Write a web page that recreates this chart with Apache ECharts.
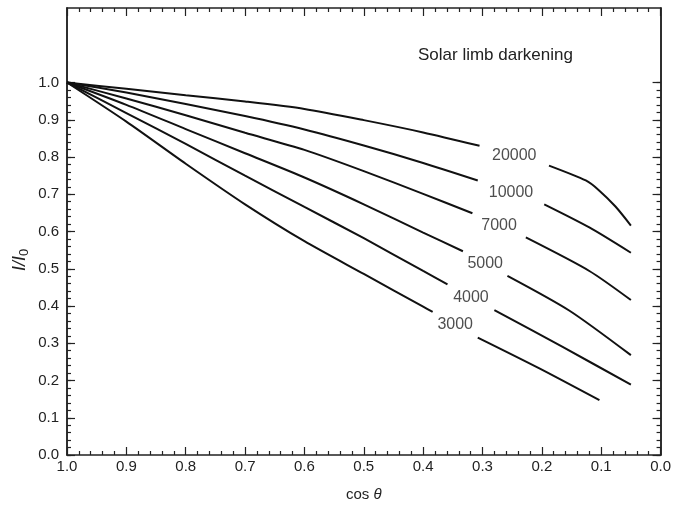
<!DOCTYPE html>
<html><head><meta charset="utf-8">
<script src="https://cdn.jsdelivr.net/npm/echarts@6/dist/echarts.min.js"></script>
<style>html,body{margin:0;padding:0;background:#fff}#c{width:674px;height:507px}</style>
</head><body><div id="c"></div>
<script>
// Curve names (wavelength, Å)
const curveNames = ['20000', '10000', '7000', '5000', '4000', '3000'];
// [cos theta, I/I0] — part before the in-line label
const before20000 = [[1.0,1.0],[0.9,0.983],[0.8,0.966],[0.7,0.949],[0.6,0.929],[0.5,0.899],[0.4,0.866],[0.305,0.830]];
const before10000 = [[1.0,1.0],[0.9,0.973],[0.8,0.942],[0.7,0.910],[0.6,0.874],[0.5,0.831],[0.4,0.784],[0.308,0.737]];
const before7000  = [[1.0,1.0],[0.9,0.957],[0.8,0.912],[0.7,0.865],[0.6,0.819],[0.5,0.762],[0.4,0.701],[0.317,0.649]];
const before5000  = [[1.0,1.0],[0.9,0.940],[0.8,0.875],[0.7,0.810],[0.6,0.745],[0.5,0.673],[0.4,0.597],[0.333,0.547]];
const before4000  = [[1.0,1.0],[0.9,0.918],[0.8,0.835],[0.7,0.750],[0.6,0.666],[0.5,0.582],[0.4,0.494],[0.359,0.458]];
const before3000  = [[1.0,1.0],[0.9,0.895],[0.8,0.782],[0.7,0.673],[0.6,0.574],[0.5,0.486],[0.4,0.398],[0.384,0.384]];
// part after the in-line label
const after20000 = [[0.188,0.777],[0.126,0.737],[0.104,0.711],[0.076,0.667],[0.050,0.616]];
const after10000 = [[0.196,0.673],[0.120,0.611],[0.050,0.543]];
const after7000  = [[0.227,0.584],[0.120,0.494],[0.050,0.416]];
const after5000  = [[0.258,0.481],[0.154,0.388],[0.050,0.268]];
const after4000  = [[0.280,0.389],[0.165,0.290],[0.050,0.189]];
const after3000  = [[0.308,0.315],[0.205,0.233],[0.103,0.147]];

const xTicks = [0,0.1,0.2,0.3,0.4,0.5,0.6,0.7,0.8,0.9,1.0];
const yTicks = [0,0.1,0.2,0.3,0.4,0.5,0.6,0.7,0.8,0.9,1.0];
const titleText = 'Solar limb darkening';

const beforeSegs = [before20000,before10000,before7000,before5000,before4000,before3000];
const afterSegs  = [after20000,after10000,after7000,after5000,after4000,after3000];

const yMinor = [];
for (let i = 0; i <= 50; i++) yMinor.push(+(i*0.02).toFixed(2));

const FONT = 'Liberation Sans, Arial, Helvetica, sans-serif';
const TXT = '#222';

const series = [];
const labelData = [];
curveNames.forEach((n, i) => {
  const a = beforeSegs[i], b = afterSegs[i];
  const lineStyle = {color:'#111', width:2};
  series.push({type:'line', data:a, showSymbol:false, symbol:'none', lineStyle, smooth:0.25, silent:true});
  series.push({type:'line', data:b, showSymbol:false, symbol:'none', lineStyle, smooth:0.25, silent:true});
  const p = a[a.length-1], q = b[0];
  labelData.push({name:n, value:[(p[0]+q[0])/2, (p[1]+q[1])/2]});
});
series.push({
  type:'scatter', data:labelData, symbolSize:0, silent:true,
  label:{show:true, position:'inside', formatter:'{b}', color:TXT, fontFamily:FONT, fontSize:16}
});

function yAxisDef(pos, vals, len, showLabels){
  return {
    type:'value', position:pos, offset:0, min:0, max:1.2,
    axisLine:{show:true, onZero:false, lineStyle:{color:'#222', width:1.5}},
    axisTick:{show:true, inside:true, length:len, customValues:vals, lineStyle:{color:'#222', width:1.2}},
    axisLabel:{show:showLabels, customValues:yTicks, margin:8, color:TXT, fontFamily:FONT, fontSize:15,
      formatter:v=>v.toFixed(1)},
    splitLine:{show:false}
  };
}
function xAxisDef(pos, showLabels){
  return {
    type:'value', position:pos, min:0, max:1, interval:0.1, inverse:true,
    axisLine:{show:true, onZero:false, lineStyle:{color:'#222', width:1.5}},
    axisTick:{show:true, inside:true, length:8, lineStyle:{color:'#222', width:1.2}},
    minorTick:{show:true, splitNumber:5, length:4, lineStyle:{color:'#222', width:1.2}},
    axisLabel:{show:showLabels, margin:4, color:TXT, fontFamily:FONT, fontSize:15, formatter:v=>v.toFixed(1)},
    splitLine:{show:false}, minorSplitLine:{show:false},
    name: showLabels ? 'cos {it|θ}' : '', nameLocation:'middle', nameGap:32,
    nameTextStyle:{color:TXT, fontFamily:FONT, fontSize:15,
      rich:{it:{fontFamily:FONT, fontSize:15, fontStyle:'italic', color:TXT}}}
  };
}

const chart = echarts.init(document.getElementById('c'), null, {renderer:'canvas'});
chart.setOption({
  animation:false,
  backgroundColor:'#fff',
  grid:{left:67, right:12, top:8, bottom:48, containLabel:false},
  xAxis:[xAxisDef('bottom', true), xAxisDef('top', false)],
  yAxis:[yAxisDef('left', yTicks, 8, true), yAxisDef('left', yMinor, 4, false),
         yAxisDef('right', yTicks, 8, false), yAxisDef('right', yMinor, 4, false)],
  graphic:[
    {type:'text', left:418, top:47, style:{text:titleText, fill:TXT, font:'17px '+FONT}},
    {type:'text', x:20, y:260, rotation:Math.PI/2, style:{
      text:'{i|I/I}{s|0}', fill:TXT, align:'center', verticalAlign:'middle',
      rich:{i:{fontFamily:FONT, fontSize:18, fontStyle:'italic', fill:TXT},
            s:{fontFamily:FONT, fontSize:13, fill:TXT, verticalAlign:'bottom', padding:[9,0,0,0]}}}}
  ],
  series
});
</script></body></html>
